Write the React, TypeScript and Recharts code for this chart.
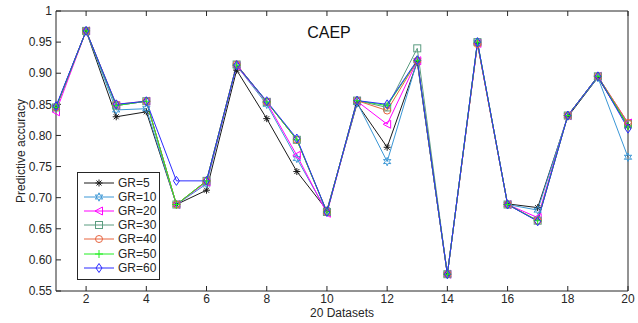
import React from "react";
import { Line, LineChart, XAxis, YAxis } from "recharts";

const datasets = [1, 2, 3, 4, 5, 6, 7, 8, 9, 10, 11, 12, 13, 14, 15, 16, 17, 18, 19, 20];
const xTicks = [2, 4, 6, 8, 10, 12, 14, 16, 18, 20];
const yTicks = [0.55, 0.6, 0.65, 0.7, 0.75, 0.8, 0.85, 0.9, 0.95, 1];

const gr5 = [0.845, 0.968, 0.83, 0.838, 0.689, 0.712, 0.905, 0.827, 0.742, 0.68, 0.851, 0.781, 0.918, 0.577, 0.948, 0.69, 0.684, 0.83, 0.893, 0.815];
const gr10 = [0.845, 0.968, 0.841, 0.843, 0.689, 0.722, 0.912, 0.85, 0.763, 0.677, 0.853, 0.758, 0.92, 0.577, 0.95, 0.689, 0.68, 0.832, 0.893, 0.765];
const gr20 = [0.838, 0.968, 0.848, 0.855, 0.689, 0.725, 0.912, 0.853, 0.768, 0.675, 0.855, 0.818, 0.92, 0.577, 0.948, 0.689, 0.668, 0.832, 0.895, 0.82];
const gr30 = [0.845, 0.968, 0.848, 0.855, 0.689, 0.727, 0.914, 0.854, 0.793, 0.677, 0.856, 0.845, 0.94, 0.577, 0.95, 0.689, 0.663, 0.832, 0.895, 0.818];
const gr40 = [0.845, 0.968, 0.85, 0.855, 0.689, 0.727, 0.914, 0.854, 0.793, 0.677, 0.856, 0.84, 0.92, 0.577, 0.947, 0.689, 0.663, 0.832, 0.895, 0.82];
const gr50 = [0.845, 0.968, 0.848, 0.855, 0.689, 0.727, 0.913, 0.854, 0.793, 0.677, 0.856, 0.848, 0.92, 0.577, 0.95, 0.689, 0.663, 0.832, 0.895, 0.815];
const gr60 = [0.847, 0.968, 0.85, 0.855, 0.727, 0.727, 0.913, 0.855, 0.795, 0.677, 0.856, 0.85, 0.921, 0.577, 0.95, 0.689, 0.662, 0.832, 0.895, 0.811];

const series = [
  { key: "gr5", name: "GR=5", values: gr5, color: "#1a1a1a", shape: "asterisk" },
  { key: "gr10", name: "GR=10", values: gr10, color: "#3b97d6", shape: "hexagram" },
  { key: "gr20", name: "GR=20", values: gr20, color: "#ff00ff", shape: "triangle" },
  { key: "gr30", name: "GR=30", values: gr30, color: "#5b9c80", shape: "square" },
  { key: "gr40", name: "GR=40", values: gr40, color: "#e8643f", shape: "circle" },
  { key: "gr50", name: "GR=50", values: gr50, color: "#22ee22", shape: "plus" },
  { key: "gr60", name: "GR=60", values: gr60, color: "#2b2bff", shape: "diamond" },
];

const rows = datasets.map((x, i) => {
  const row: Record<string, number> = { x };
  series.forEach((s) => (row[s.key] = s.values[i]));
  return row;
});

const FONT = "'Liberation Sans', Arial, sans-serif";
const AXIS = "#262626";

function Marker({ shape, cx, cy, color }: { shape: string; cx: number; cy: number; color: string }) {
  const p = { stroke: color, strokeWidth: 1, fill: "none" };
  switch (shape) {
    case "asterisk":
      return (
        <g {...p}>
          <line x1={cx - 3.5} y1={cy} x2={cx + 3.5} y2={cy} />
          <line x1={cx} y1={cy - 3.5} x2={cx} y2={cy + 3.5} />
          <line x1={cx - 2.5} y1={cy - 2.5} x2={cx + 2.5} y2={cy + 2.5} />
          <line x1={cx - 2.5} y1={cy + 2.5} x2={cx + 2.5} y2={cy - 2.5} />
        </g>
      );
    case "hexagram": {
      const pts: string[] = [];
      for (let k = 0; k < 12; k++) {
        const r = k % 2 === 0 ? 4.2 : 2;
        const a = (Math.PI / 6) * k - Math.PI / 2;
        pts.push(`${cx + r * Math.cos(a)},${cy + r * Math.sin(a)}`);
      }
      return <polygon points={pts.join(" ")} {...p} />;
    }
    case "triangle":
      return <polygon points={`${cx - 4},${cy} ${cx + 3.5},${cy - 4} ${cx + 3.5},${cy + 4}`} {...p} />;
    case "square":
      return <rect x={cx - 3.5} y={cy - 3.5} width={7} height={7} {...p} />;
    case "circle":
      return <circle cx={cx} cy={cy} r={3.5} {...p} />;
    case "plus":
      return (
        <g {...p}>
          <line x1={cx - 4} y1={cy} x2={cx + 4} y2={cy} />
          <line x1={cx} y1={cy - 4} x2={cx} y2={cy + 4} />
        </g>
      );
    default:
      return <polygon points={`${cx},${cy - 4.5} ${cx + 3},${cy} ${cx},${cy + 4.5} ${cx - 3},${cy}`} {...p} />;
  }
}

function LegendBox() {
  return (
    <div
      style={{
        position: "absolute",
        left: 77,
        top: 172,
        width: 76,
        height: 103,
        border: `1px solid ${AXIS}`,
        background: "#fff",
        padding: "3px 0 0 5px",
        fontFamily: FONT,
        fontSize: 12,
        color: AXIS,
        boxSizing: "content-box",
      }}
    >
      {series.map((s) => (
        <div key={s.key} style={{ display: "flex", alignItems: "center", height: 14.1 }}>
          <svg width={32} height={12} style={{ marginRight: 3 }}>
            <line x1={1} y1={6} x2={31} y2={6} stroke={s.color} strokeWidth={1} />
            <Marker shape={s.shape} cx={16} cy={6} color={s.color} />
          </svg>
          <span>{s.name}</span>
        </div>
      ))}
    </div>
  );
}

const tickStyle = { fontFamily: FONT, fontSize: 12, fill: AXIS };
const fmtY = (v: number) => (v === 1 ? "1" : v.toFixed(2));

export default function App() {
  return (
    <div style={{ position: "absolute", left: 0, top: 0, width: 638, height: 323, background: "#fff" }}>
      <LineChart width={638} height={323} data={rows} margin={{ top: 10, right: 9, bottom: 0, left: 0 }}>
        <XAxis
          dataKey="x"
          type="number"
          domain={[1, 20]}
          ticks={xTicks}
          height={32}
          stroke={AXIS}
          tickSize={-5}
          tickMargin={8}
          tick={tickStyle}
          label={{ value: "20 Datasets", position: "insideBottom", offset: 6, style: { fontFamily: FONT, fontSize: 12, fill: AXIS } }}
        />
        <XAxis
          xAxisId="top"
          orientation="top"
          dataKey="x"
          type="number"
          domain={[1, 20]}
          ticks={xTicks}
          height={1}
          stroke={AXIS}
          tickSize={-5}
          tick={() => <g />}
        />
        <YAxis
          type="number"
          domain={[0.55, 1]}
          ticks={yTicks}
          width={56}
          stroke={AXIS}
          tickSize={-5}
          tickMargin={9}
          tick={tickStyle}
          tickFormatter={fmtY}
          label={{
            value: "Predictive accuracy",
            angle: -90,
            position: "insideLeft",
            offset: 21,
            style: { fontFamily: FONT, fontSize: 12, fill: AXIS, textAnchor: "middle" },
          }}
        />
        <YAxis
          yAxisId="right"
          orientation="right"
          type="number"
          domain={[0.55, 1]}
          ticks={yTicks}
          width={1}
          stroke={AXIS}
          tickSize={-5}
          tick={() => <g />}
        />
        {series.map((s) => (
          <Line
            key={s.key}
            dataKey={s.key}
            name={s.name}
            stroke={s.color}
            strokeWidth={1}
            isAnimationActive={false}
            dot={(props: any) => (
              <Marker key={`${s.key}-${props.index}`} shape={s.shape} cx={props.cx} cy={props.cy} color={s.color} />
            )}
            activeDot={false}
          />
        ))}
      </LineChart>
      <LegendBox />
      <div
        style={{
          position: "absolute",
          left: 279,
          top: 24,
          width: 100,
          textAlign: "center",
          fontFamily: FONT,
          fontSize: 16,
          color: "#111",
        }}
      >
        CAEP
      </div>
    </div>
  );
}
